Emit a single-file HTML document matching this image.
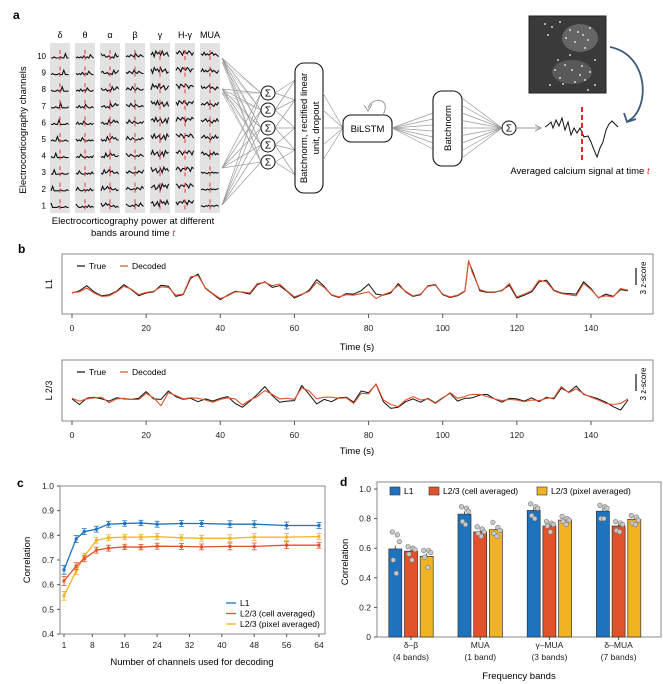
<!DOCTYPE html>
<html><head><meta charset="utf-8">
<style>
html,body{margin:0;padding:0;background:#fff;}
svg{display:block;font-family:"Liberation Sans",sans-serif;}
</style></head>
<body>
<svg id="fig" width="663" height="684" viewBox="0 0 663 684" xmlns="http://www.w3.org/2000/svg">
<rect width="663" height="684" fill="#fff"/>
<g id="pa"></g>
<g id="pb"></g>
<g id="pc"></g>
<g id="pd"></g>
</svg>
<script>
// ---------- Panel b data ----------
const bTimes = [0,2,4,6,8,10,12,14,16,18,20,22,24,26,28,30,32,34,36,38,40,42,44,46,48,50,52,54,56,58,60,62,64,66,68,70,72,74,76,78,80,82,84,86,88,90,92,94,96,98,100,102,104,106,107,108,110,112,114,116,118,120,122,124,126,128,130,132,134,136,138,140,142,144,146,148,150];
const l1True = [0,0.4,1.3,0.2,-0.5,-0.3,0.3,1.5,0.6,-0.5,0,0.2,1.4,1.2,-0.6,-0.3,2.6,3.4,0.8,-0.2,-1.2,-0.4,0.3,0.1,-0.2,1.5,2.0,1.0,1.3,0.3,-0.9,-0.3,0.5,2.4,1.2,-0.4,-0.8,-0.1,-0.2,0.4,1.6,-0.2,-0.4,0,1.7,0.2,-0.6,-0.3,1.3,1.5,-0.3,-0.8,-0.5,0.3,5.6,4.0,0.4,0.1,0.1,0.5,1.4,-0.9,-0.4,0.2,2.0,2.3,0.5,0,-0.1,-0.2,2.0,0.8,-0.9,-0.2,-0.6,0.6,0.4];
const l1Dec = [0.1,0.2,0.9,0.0,-0.6,-0.5,0.2,1.2,0.7,-0.3,0.1,0.3,1.1,1.0,-0.4,-0.2,2.9,3.1,0.9,-0.1,-1.0,-0.5,0.2,0.2,0,1.7,1.9,1.3,1.6,0.4,-0.7,-0.2,0.3,1.9,1.0,-0.3,-0.7,-0.3,-0.4,-0.1,0.2,-1.0,-0.3,0.2,1.4,0.3,-0.5,-0.2,1.2,1.4,-0.2,-0.7,-0.4,0.4,5.8,3.6,0.6,0.2,0.2,0.4,1.7,-0.7,-0.2,0.4,2.3,2.0,0.4,-0.1,-0.3,-0.5,1.7,0.6,-0.8,-0.5,-0.7,0.8,0.5];
const l23True = [0.2,-0.8,0.3,0.5,0.2,-0.2,0.4,0.2,0.1,0.3,1.5,0.2,0.1,1.6,0.6,0.1,0.3,-0.3,0.2,-0.2,0.3,0.6,-0.6,-1.3,-0.2,1.0,2.4,0.8,-0.4,-0.2,-0.1,2.6,1.0,-0.7,0.1,-0.3,0.4,0.5,-0.4,1.6,1.3,2.8,-0.3,-1.5,-1.3,-0.3,0.2,-0.4,0.3,-0.5,0.4,1.2,-0.2,0.3,0.3,0.4,0.9,1.0,0.2,-0.4,0.3,0.2,-0.2,0.4,-0.3,0.5,0.2,2.1,1.4,2.5,1.0,0.6,0.2,-0.4,-1.2,-1.8,0.0];
const l23Dec = [0.3,-0.2,0.2,0.4,0.5,-0.5,0.2,0.3,0.1,0.1,1.2,0.4,-1.0,1.3,0.8,0.2,0.4,0.3,0.0,-0.4,0.1,0.4,0.2,-0.9,0.0,0.6,1.7,1.0,0.2,0.3,0.1,2.2,1.6,0.2,0.5,0.5,0.3,0.4,-0.6,1.2,1.1,2.9,0.0,-0.8,-1.2,0.0,0.6,0.0,0.2,-0.6,0.3,1.3,0.3,0.6,0.9,1.0,1.0,0.6,0.2,-0.1,0.1,0.0,-0.3,0.0,-0.1,0.3,0.4,2.4,1.3,2.0,1.1,0.5,0.0,-0.6,-0.8,-0.6,0.2];
const bTicks = [0,20,40,60,80,100,120,140];

// ---------- Panel c data ----------
const cChannels = [1,4,6,9,12,16,20,24,30,35,42,48,56,64];
const cL1 = [0.66,0.785,0.815,0.825,0.845,0.848,0.85,0.845,0.848,0.848,0.845,0.845,0.84,0.84];
const cCell = [0.615,0.675,0.705,0.74,0.748,0.753,0.752,0.756,0.755,0.753,0.755,0.755,0.76,0.76];
const cPix = [0.555,0.655,0.715,0.78,0.79,0.793,0.793,0.795,0.79,0.788,0.788,0.793,0.793,0.795];
const cErr = [0.018,0.014,0.012,0.012,0.012,0.011,0.011,0.012,0.012,0.012,0.014,0.014,0.014,0.012];
const cXTicks = [1,8,16,24,32,40,48,56,64];
const cYTicks = [0.4,0.5,0.6,0.7,0.8,0.9,1.0];

// ---------- Panel d data ----------
const dGroups = ["δ–β|(4 bands)","MUA|(1 band)","γ–MUA|(3 bands)","δ–MUA|(7 bands)"];
const dL1 = [0.595,0.83,0.855,0.85];
const dCell = [0.58,0.71,0.75,0.75];
const dPix = [0.545,0.725,0.79,0.795];
const dL1Dots = [[0.71,0.69,0.645,0.52,0.43],[0.88,0.87,0.85,0.78,0.76],[0.9,0.88,0.87,0.82,0.8],[0.89,0.88,0.87,0.8,0.8]];
const dCellDots = [[0.61,0.6,0.59,0.56,0.52],[0.745,0.73,0.71,0.7,0.68],[0.78,0.77,0.76,0.75,0.71],[0.78,0.77,0.76,0.72,0.71]];
const dPixDots = [[0.585,0.585,0.57,0.54,0.47],[0.775,0.74,0.72,0.7,0.68],[0.815,0.8,0.79,0.78,0.76],[0.82,0.81,0.79,0.77,0.76]];
const dYTicks = [0,0.2,0.4,0.6,0.8,1.0];

const NS="http://www.w3.org/2000/svg";
function mk(parent,tag,attrs,text){const e=document.createElementNS(NS,tag);for(const k in attrs)e.setAttribute(k,attrs[k]);if(text!==undefined)e.textContent=text;parent.appendChild(e);return e;}
const BLUE="#1f73bd",RED="#e0522a",YEL="#f0b323";

// ================= Panel a =================
(function(){
const g=document.getElementById('pa');
let t=mk(g,'text',{x:13,y:19,'font-size':12,'font-weight':'bold'},'a');


const bands=["δ","θ","α","β","γ","H-γ","MUA"];
const pats=[[0,0,1,0,0,0,1,0,0,4,0,0],[0,1,0,1,0,2,0,1,0,3,1,0],[4,2,3,1,1,2,0,1,0,4,1,2],[1,2,1,3,2,1,4,2,1,3,2,1],[2,4,1,5,3,4,2,5,2,3,4,1],[4,3,5,4,2,5,4,3,5,4,2,4],[3,2,4,2,3,2,3,4,2,3,2,1]];
for(let c=0;c<7;c++){
  const x0=50+c*25;
  let r=mk(g,'rect',{x:x0,y:43,width:20,height:170,fill:'#e2e2e2'});
  
  
  let h=mk(g,'text',{x:x0+10,y:38,'font-size':9,'text-anchor':'middle'},bands[c]);
  
  
  for(let row=0;row<10;row++){
    const yb=58+row*16.6;
    const p=pats[c];let d='';
    for(let i=0;i<p.length;i++){const amp=(c>=4?1.4:1.1)*(c==6&&row>6?0.4:1);d+=(i?'L':'M')+(x0+1+i*1.6).toFixed(1)+' '+(yb-p[(i+row)%p.length]*amp).toFixed(1);}
    let pl=mk(g,'path',{d:d,fill:'none',stroke:'#111','stroke-width':1.1});
    
    
    mk(g,'line',{x1:x0+10,y1:yb-8,x2:x0+10,y2:yb-4,stroke:'#e33','stroke-width':1});
    mk(g,'line',{x1:x0+10,y1:yb-2,x2:x0+10,y2:yb+2,stroke:'#e33','stroke-width':1});
  }
}
for(let row=0;row<10;row++){
  let n=mk(g,'text',{x:46,y:59+row*16.6,'font-size':8,'text-anchor':'end'},String(10-row));
  
  
}
t=mk(g,'text',{x:0,y:0,'font-size':9.5,'text-anchor':'middle',transform:'translate(26,130) rotate(-90)'},'Electrocorticography channels');


t=mk(g,'text',{x:133,y:224,'font-size':9.5,'text-anchor':'middle'},'Electrocorticography power at different');


t=mk(g,'text',{x:133,y:236,'font-size':9.5,'text-anchor':'middle'},'bands around time ');


mk(t,'tspan',{fill:'#e33','font-style':'italic'},'t');
const src=[58,89,168,205], sig=[93,110,128,145,162];
src.forEach(sy=>sig.forEach(s=>mk(g,'line',{x1:222,y1:sy,x2:261,y2:s,stroke:'#999','stroke-width':0.7})));
[58,89].forEach(sy=>sig.forEach(s=>mk(g,'line',{x1:222,y1:sy+4,x2:261,y2:s,stroke:'#aaa','stroke-width':0.5})));
const boxIn=[80,100,128,150,175];
sig.forEach((s,si)=>boxIn.forEach((b,i)=>{if(Math.abs(i-si)<=1)mk(g,'line',{x1:275,y1:s,x2:295,y2:b,stroke:'#999','stroke-width':0.7});}));
sig.forEach(s=>{
  let c=mk(g,'circle',{cx:268,cy:s,r:7,fill:'#fff',stroke:'#111','stroke-width':1});
  
  
  mk(g,'text',{x:268,y:s+3.5,'font-size':10,'text-anchor':'middle'},'Σ');
});
let b=mk(g,'rect',{x:295,y:63,width:28,height:130,rx:9,fill:'#fff',stroke:'#111','stroke-width':1.1});


mk(g,'text',{x:0,y:0,'font-size':9.5,'text-anchor':'middle',transform:'translate(307,128) rotate(-90)'},'Batchnorm, rectified linear');
mk(g,'text',{x:0,y:0,'font-size':9.5,'text-anchor':'middle',transform:'translate(319,128) rotate(-90)'},'unit, dropout');
[93,110,128,145,160].forEach(y=>mk(g,'line',{x1:323,y1:y,x2:343,y2:128,stroke:'#999','stroke-width':0.7}));
b=mk(g,'rect',{x:343,y:115,width:49,height:27,rx:8,fill:'#fff',stroke:'#111','stroke-width':1.1});


mk(g,'text',{x:367.5,y:132,'font-size':9.5,'text-anchor':'middle'},'BiLSTM');
mk(g,'path',{d:'M383 115 C392 98,372 96,368 108',fill:'none',stroke:'#999','stroke-width':1});
mk(g,'path',{d:'M364 105 L368 111 L372 104',fill:'none',stroke:'#999','stroke-width':1});
for(let i=0;i<7;i++)mk(g,'line',{x1:392,y1:128,x2:433,y2:113+i*6,stroke:'#999','stroke-width':0.7});
b=mk(g,'rect',{x:433,y:91,width:29,height:75,rx:9,fill:'#fff',stroke:'#111','stroke-width':1.1});


mk(g,'text',{x:0,y:0,'font-size':9.5,'text-anchor':'middle',transform:'translate(451,128) rotate(-90)'},'Batchnorm');
for(let i=0;i<9;i++)mk(g,'line',{x1:462,y1:98+i*7.5,x2:502,y2:128,stroke:'#999','stroke-width':0.7});
let c=mk(g,'circle',{cx:509,cy:128,r:7,fill:'#fff',stroke:'#111','stroke-width':1});


mk(g,'text',{x:509,y:131.5,'font-size':10,'text-anchor':'middle'},'Σ');
mk(g,'line',{x1:517,y1:128,x2:540,y2:128,stroke:'#999','stroke-width':1});
mk(g,'path',{d:'M535 125 L541 128 L535 131',fill:'none',stroke:'#999','stroke-width':1});
let im=mk(g,'rect',{x:529,y:16,width:77,height:77,fill:'#3a3a3a',stroke:'#222'});


mk(g,'ellipse',{cx:580,cy:38,rx:18,ry:14,fill:'#777',opacity:0.7});
mk(g,'ellipse',{cx:572,cy:72,rx:20,ry:12,fill:'#666',opacity:0.7});
const dots=[[545,24],[552,27],[560,22],[570,30],[578,32],[583,35],[588,40],[575,42],[590,28],[566,38],[558,60],[565,65],[572,70],[580,75],[585,80],[560,78],[550,85],[575,82],[590,72],[595,85],[548,35],[585,48],[570,55],[582,66],[563,84],[595,60],[555,70],[588,90]];
dots.forEach(p=>mk(g,'circle',{cx:p[0],cy:p[1],r:0.9,fill:'#fff'}));
mk(g,'path',{d:'M610 47 C650 55,650 110,628 121',fill:'none',stroke:'#3d5a78','stroke-width':1.8});
mk(g,'path',{d:'M624 113 L627 122 L636 119',fill:'none',stroke:'#3d5a78','stroke-width':1.8});
let sp=mk(g,'path',{d:'M545 127 L548 125 L551 122 L553 128 L556 120 L559 126 L562 118 L565 130 L568 122 L571 135 L574 128 L577 133 L580 128 L584 137 L588 136 L591 142 L594 150 L597 157 L600 148 L603 142 L606 130 L609 124 L612 121 L615 124 L618 127',fill:'none',stroke:'#111','stroke-width':1});


mk(g,'line',{x1:582,y1:107,x2:582,y2:161,stroke:'#e22','stroke-width':2,'stroke-dasharray':'5,3'});
t=mk(g,'text',{x:580,y:174,'font-size':9.5,'text-anchor':'middle'},'Averaged calcium signal at time ');


mk(t,'tspan',{fill:'#e33','font-style':'italic'},'t');
})();

// ================= Panel b =================
(function(){
const g=document.getElementById('pb');
let t=mk(g,'text',{x:18,y:253,'font-size':12,'font-weight':'bold'},'b');


const xb=s=>72+s*3.707;
const rows=[{top:254,bot:314,c0:293,name:'L1',tr:l1True,dc:l1Dec,tl:331,xl:350},{top:360,bot:421,c0:400,name:'L 2/3',tr:l23True,dc:l23Dec,tl:438,xl:454}];
rows.forEach((R,ri)=>{
  let box=mk(g,'rect',{x:62,y:R.top,width:591,height:R.bot-R.top,fill:'#fff',stroke:'#888','stroke-width':1});
  
  
  const yb=z=>R.c0-z*5.6;
  const mkPath=(arr,col,w,nm)=>{let d='';arr.forEach((v,i)=>{d+=(i?'L':'M')+xb(bTimes[i]).toFixed(1)+' '+yb(v).toFixed(1);});let p=mk(g,'path',{d:d,fill:'none',stroke:col,'stroke-width':w,'stroke-linejoin':'round'});};
  mkPath(R.tr,'#111',1,'true-trace');
  mkPath(R.dc,'#e0522a',1.1,'decoded-trace');
  bTicks.forEach(v=>{mk(g,'line',{x1:xb(v),y1:R.bot,x2:xb(v),y2:R.bot+4,stroke:'#555'});let tt=mk(g,'text',{x:xb(v),y:R.tl,'font-size':8.5,'text-anchor':'middle',fill:'#222'},String(v));});
  let xl=mk(g,'text',{x:357,y:R.xl,'font-size':9.5,'text-anchor':'middle'},'Time (s)');
  
  
  let yl=mk(g,'text',{x:0,y:0,'font-size':9,'text-anchor':'middle',transform:'translate(52,'+((R.top+R.bot)/2)+') rotate(-90)'},R.name);
  
  
  mk(g,'line',{x1:77,y1:R.top+12,x2:85,y2:R.top+12,stroke:'#111','stroke-width':1.2});
  mk(g,'text',{x:89,y:R.top+15,'font-size':8.5},'True');
  mk(g,'line',{x1:120,y1:R.top+12,x2:128,y2:R.top+12,stroke:RED,'stroke-width':1.2});
  mk(g,'text',{x:132,y:R.top+15,'font-size':8.5},'Decoded');
  mk(g,'line',{x1:636,y1:R.top+14,x2:636,y2:R.top+31,stroke:'#111','stroke-width':1.2});
  let sb=mk(g,'text',{x:0,y:0,'font-size':8,'text-anchor':'middle',transform:'translate(646,'+(R.top+24)+') rotate(-90)'},'3 z-score');
  
  
});
})();

// ================= Panel c =================
(function(){
const g=document.getElementById('pc');
let t=mk(g,'text',{x:17,y:487,'font-size':12,'font-weight':'bold'},'c');


const xc=n=>64+(n-1)*(255/63);
const yc=v=>634-(v-0.4)/0.6*148;
let ax=mk(g,'path',{d:'M60 486 L60 634 L325 634 L325 486 Z',fill:'none',stroke:'#888','stroke-width':1});


cYTicks.forEach(v=>{mk(g,'line',{x1:57,y1:yc(v),x2:60,y2:yc(v),stroke:'#555'});let tt=mk(g,'text',{x:54,y:yc(v)+3,'font-size':8.5,'text-anchor':'end',fill:'#222'},v.toFixed(1));});
cXTicks.forEach(v=>{mk(g,'line',{x1:xc(v),y1:634,x2:xc(v),y2:637,stroke:'#555'});let tt=mk(g,'text',{x:xc(v),y:648,'font-size':8.5,'text-anchor':'middle',fill:'#222'},String(v));});
t=mk(g,'text',{x:192,y:665,'font-size':9.5,'text-anchor':'middle'},'Number of channels used for decoding');


t=mk(g,'text',{x:0,y:0,'font-size':9.5,'text-anchor':'middle',transform:'translate(30,560) rotate(-90)'},'Correlation');


[[cPix,YEL,'series-pixel-averaged'],[cCell,RED,'series-cell-averaged'],[cL1,BLUE,'series-l1']].forEach(([arr,col,nm])=>{
  let d='';arr.forEach((v,i)=>{d+=(i?'L':'M')+xc(cChannels[i]).toFixed(1)+' '+yc(v).toFixed(1);});
  let p=mk(g,'path',{d:d,fill:'none',stroke:col,'stroke-width':1.3});
  
  
  arr.forEach((v,i)=>{
    const x=xc(cChannels[i]),e=cErr[i];
    mk(g,'line',{x1:x,y1:yc(v+e),x2:x,y2:yc(v-e),stroke:col,'stroke-width':0.8});
    mk(g,'line',{x1:x-2.5,y1:yc(v+e),x2:x+2.5,y2:yc(v+e),stroke:col,'stroke-width':0.8});
    mk(g,'line',{x1:x-2.5,y1:yc(v-e),x2:x+2.5,y2:yc(v-e),stroke:col,'stroke-width':0.8});
    let pt=mk(g,'rect',{x:x-1.5,y:yc(v)-1.5,width:3,height:3,fill:col});
    
    
  });
});
[['L1',BLUE],['L2/3 (cell averaged)',RED],['L2/3 (pixel averaged)',YEL]].forEach(([lab,col],i)=>{
  const y=603+i*10.5;
  mk(g,'line',{x1:226,y1:y,x2:236,y2:y,stroke:col,'stroke-width':1.3});
  let tt=mk(g,'text',{x:240,y:y+3,'font-size':8.5},lab);
  
  
});
})();

// ================= Panel d =================
(function(){
const g=document.getElementById('pd');
let t=mk(g,'text',{x:340,y:486,'font-size':12,'font-weight':'bold'},'d');


const yd=v=>637-v*148;
const gc=i=>411+i*69.2;
let ax=mk(g,'path',{d:'M377 482 L377 637 L661 637 L661 482 Z',fill:'none',stroke:'#888','stroke-width':1});


dYTicks.forEach(v=>{mk(g,'line',{x1:374,y1:yd(v),x2:377,y2:yd(v),stroke:'#555'});let tt=mk(g,'text',{x:371,y:yd(v)+3,'font-size':8.5,'text-anchor':'end',fill:'#222'},v===0?'0':v.toFixed(1));});
const series=[[dL1,dL1Dots,BLUE,-15.7,'bar-l1'],[dCell,dCellDots,RED,0,'bar-cell'],[dPix,dPixDots,YEL,15.7,'bar-pixel']];
dGroups.forEach((lab,i)=>{
  const cx=gc(i);
  mk(g,'line',{x1:cx,y1:637,x2:cx,y2:640,stroke:'#555'});
  const [a,b]=lab.split('|');
  let t1=mk(g,'text',{x:cx,y:648,'font-size':8.5,'text-anchor':'middle',fill:'#222'},a);
  
  
  mk(g,'text',{x:cx,y:660,'font-size':8.5,'text-anchor':'middle',fill:'#222'},b);
  series.forEach(([vals,dts,col,off,nm])=>{
    const x=cx+off,v=vals[i];
    mk(g,'line',{x1:x,y1:yd(v),x2:x,y2:yd(v+0.02),stroke:'#333','stroke-width':0.8});
    let r=mk(g,'rect',{x:x-6.5,y:yd(v),width:13,height:637-yd(v),fill:col,stroke:'#333','stroke-width':0.7});
    
    
    const offs=[-3,2,4,-2,1];
    dts[i].forEach((dv,k)=>{let c=mk(g,'circle',{cx:x+offs[k],cy:yd(dv),r:2.3,fill:'#c8c8c8',stroke:'#777','stroke-width':0.6});});
  });
});
t=mk(g,'text',{x:519,y:679,'font-size':9.5,'text-anchor':'middle'},'Frequency bands');


t=mk(g,'text',{x:0,y:0,'font-size':9.5,'text-anchor':'middle',transform:'translate(348,562) rotate(-90)'},'Correlation');


[['L1',BLUE,390],['L2/3 (cell averaged)',RED,429],['L2/3 (pixel averaged)',YEL,537]].forEach(([lab,col,x])=>{
  mk(g,'rect',{x:x,y:487,width:10,height:8,fill:col,stroke:'#333','stroke-width':0.6});
  let tt=mk(g,'text',{x:x+14,y:494,'font-size':8.5},lab);
  
  
});
})();
</script>
</body></html>
